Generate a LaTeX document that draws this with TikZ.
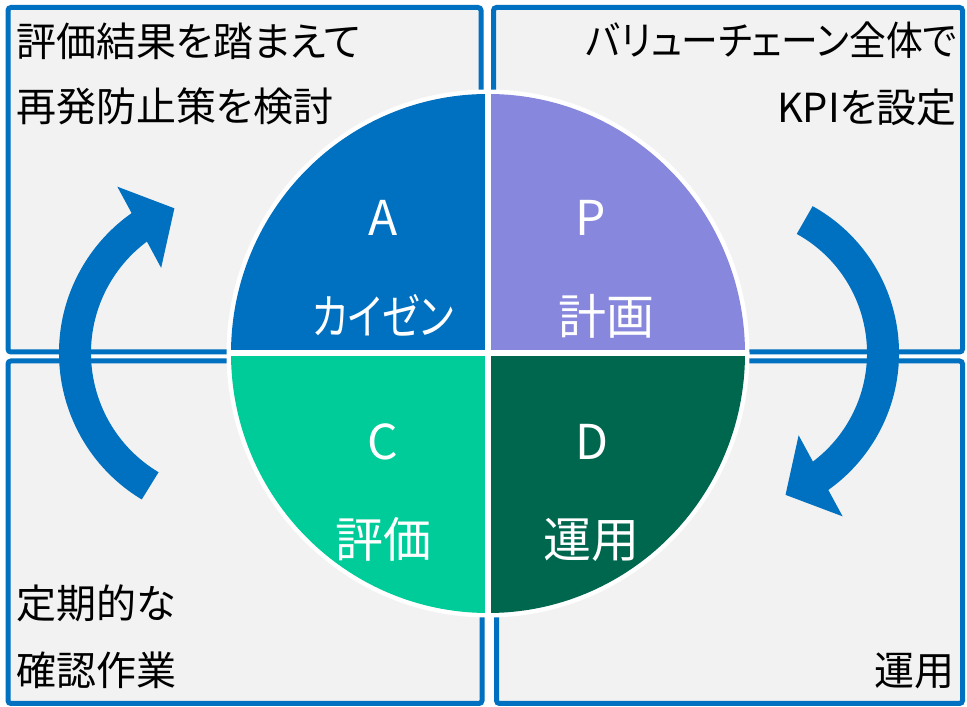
\documentclass[tikz,border=0pt]{standalone}
\usepackage{fontspec}
\usepackage{graphicx}
\setmainfont{Noto Sans CJK JP}[RawFeature=+palt]
\usetikzlibrary{arrows.meta,bending}
\definecolor{pdcablue}{HTML}{0070C0}
\definecolor{planviolet}{HTML}{8787DE}
\definecolor{checkgreen}{HTML}{00CC99}
\definecolor{dogreen}{HTML}{00674F}
\definecolor{boxgray}{HTML}{F2F2F2}
\begin{document}
\begin{tikzpicture}[x=1pt,y=1pt,
    box/.style={fill=boxgray,draw=pdcablue,line width=5pt,rounded corners=3pt},
    corner/.style={font=\fontsize{40}{48}\selectfont,inner sep=0pt},
    phase/.style={font=\fontsize{48}{56}\selectfont,text=white,inner sep=0pt,anchor=base},
    cyclearrow/.style={draw=pdcablue,line width=32pt,-{Triangle[length=40pt,width=90pt]}}]
        \useasboundingbox (0,0) rectangle (967,707);
        \fill[white] (0,0) rectangle (967,707);
        \draw[box] (8,355) rectangle (481,699.5);
        \draw[box] (493.5,355) rectangle (962.5,699.5);
        \draw[box] (8,3.5) rectangle (482,346);
        \draw[box] (496.5,3.5) rectangle (962.5,346);
        \draw[cyclearrow] (230,354) ++(239:155pt) arc[start angle=239,end angle=111,radius=155pt];
        \draw[cyclearrow] (731,354) ++(61:152pt) arc[start angle=61,end angle=-69,radius=152pt];
        \coordinate (O) at (488,353.5);
        \fill[white] (O) ellipse[x radius=261.5pt,y radius=264pt];
        \fill[planviolet] (O) -- ++(0,259.5) arc[start angle=90,end angle=0,x radius=257pt,y radius=259.5pt] -- cycle;
        \fill[pdcablue] (O) -- ++(0,259.5) arc[start angle=90,end angle=180,x radius=257pt,y radius=259.5pt] -- cycle;
        \fill[checkgreen] (O) -- ++(0,-259.5) arc[start angle=270,end angle=180,x radius=257pt,y radius=259.5pt] -- cycle;
        \fill[dogreen] (O) -- ++(0,-259.5) arc[start angle=-90,end angle=0,x radius=257pt,y radius=259.5pt] -- cycle;
        \draw[white,line width=6pt] (O) ++(-259,0) -- ++(518,0);
        \draw[white,line width=6pt] (O) ++(0,-261) -- ++(0,522);
        \node[phase] (A) at (383,471.5) {A};
        \node[phase] (kaizen) at (383,372) {\scalebox{0.8}[1]{カイゼン}};
        \node[phase] (P) at (591,471.5) {P};
        \node[phase] (keikaku) at (606,372) {計画};
        \node[phase] (C) at (383,247.5) {C};
        \node[phase] (hyoka) at (383.5,149) {評価};
        \node[phase] (D) at (592.5,247.5) {D};
        \node[phase] (unyo) at (591,149) {運用};
        \node[corner,anchor=base west] (act1) at (16,650.5) {評価結果を踏まえて};
        \node[corner,anchor=base west] (act2) at (16,585) {再発防止策を検討};
        \node[corner,anchor=base east] (plan1) at (957,651) {\scalebox{0.92}[1]{バリューチェーン全体で}};
        \node[corner,anchor=base east] (plan2) at (957,584.5) {KPIを設定};
        \node[corner,anchor=base west] (check1) at (16,88.5) {定期的な};
        \node[corner,anchor=base west] (check2) at (16,21) {確認作業};
        \node[corner,anchor=base east] (do1) at (955,21) {運用};
    \end{tikzpicture}
\end{document}
